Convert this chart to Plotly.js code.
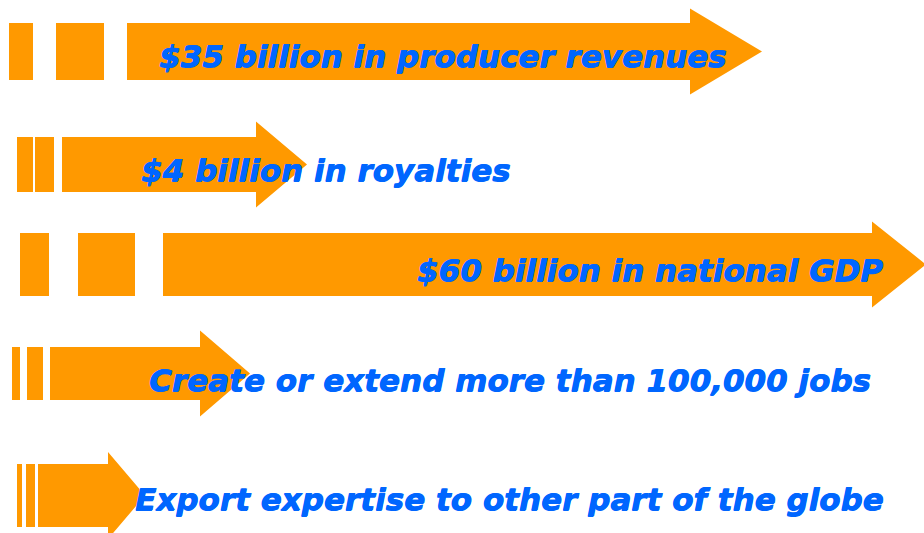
<!DOCTYPE html>
<html>
<head>
<meta charset="utf-8">
<script src="https://cdn.plot.ly/plotly-3.0.1.min.js"></script>
<style>
html,body{margin:0;padding:0;background:#fff;}
#chart{width:924px;height:533px;}
</style>
</head>
<body>
<div id="chart"></div>
<script>
// ---- data ----
var labels = [
  "$35 billion in producer revenues",
  "$4 billion in royalties",
  "$60 billion in national GDP",
  "Create or extend more than 100,000 jobs",
  "Export expertise to other part of the globe"
];
// arrow tip (length of each arrow, in canvas units)
var arrowTip   = [762, 307, 926, 250, 145];
var headStart  = [690, 256, 872, 200, 108];
var bodyStart  = [127, 62, 163, 50, 38];
var rowCenter  = [51.5, 164.5, 264.5, 373.5, 495.5];
var bodyHalf   = [28.5, 27.5, 31.5, 26.5, 31.5];
var headHalf   = [43, 43, 43, 43, 43.5];
var stripeA    = [[9,33],[17,33],[20,49],[12,20],[17,22]];
var stripeB    = [[56,104],[35,54],[78,135],[27,43],[26,35]];
var labelX     = [157, 139, 415, 147, 133];
var labelY     = [56, 170, 270, 380, 499];

var ORANGE = "#FF9900";
var BLUE = "#0066FF";

var traces = [];
function rect(x0, x1, yc, h) {
  return {
    type: "scatter", mode: "lines", hoverinfo: "skip", showlegend: false,
    x: [x0, x1, x1, x0, x0],
    y: [yc - h, yc - h, yc + h, yc + h, yc - h],
    fill: "toself", fillcolor: ORANGE, line: {width: 0, color: ORANGE}
  };
}
for (var i = 0; i < labels.length; i++) {
  var c = rowCenter[i], b = bodyHalf[i], hh = headHalf[i];
  traces.push(rect(stripeA[i][0], stripeA[i][1], c, b));
  traces.push(rect(stripeB[i][0], stripeB[i][1], c, b));
  traces.push({
    type: "scatter", mode: "lines", hoverinfo: "skip", showlegend: false,
    x: [bodyStart[i], headStart[i], headStart[i], arrowTip[i], headStart[i], headStart[i], bodyStart[i], bodyStart[i]],
    y: [c - b, c - b, c - hh, c, c + hh, c + b, c + b, c - b],
    fill: "toself", fillcolor: ORANGE, line: {width: 0, color: ORANGE}
  });
}

var annotations = labels.map(function (t, i) {
  return {
    text: t, x: labelX[i], y: labelY[i], xref: "x", yref: "y",
    xanchor: "left", yanchor: "middle", showarrow: false,
    font: {family: "DejaVu Sans", size: 31, color: BLUE, weight: "bold", style: "italic",
           shadow: "0.7px 0 0 #0066FF, 0 0.5px 0 #0066FF"}
  };
});

var layout = {
  width: 924, height: 533,
  margin: {l: 0, r: 0, t: 0, b: 0},
  paper_bgcolor: "#ffffff", plot_bgcolor: "#ffffff",
  xaxis: {range: [0, 924], visible: false, fixedrange: true},
  yaxis: {range: [533, 0], visible: false, fixedrange: true},
  annotations: annotations,
  showlegend: false
};

Plotly.newPlot("chart", traces, layout, {displayModeBar: false, staticPlot: true});
</script>
</body>
</html>
